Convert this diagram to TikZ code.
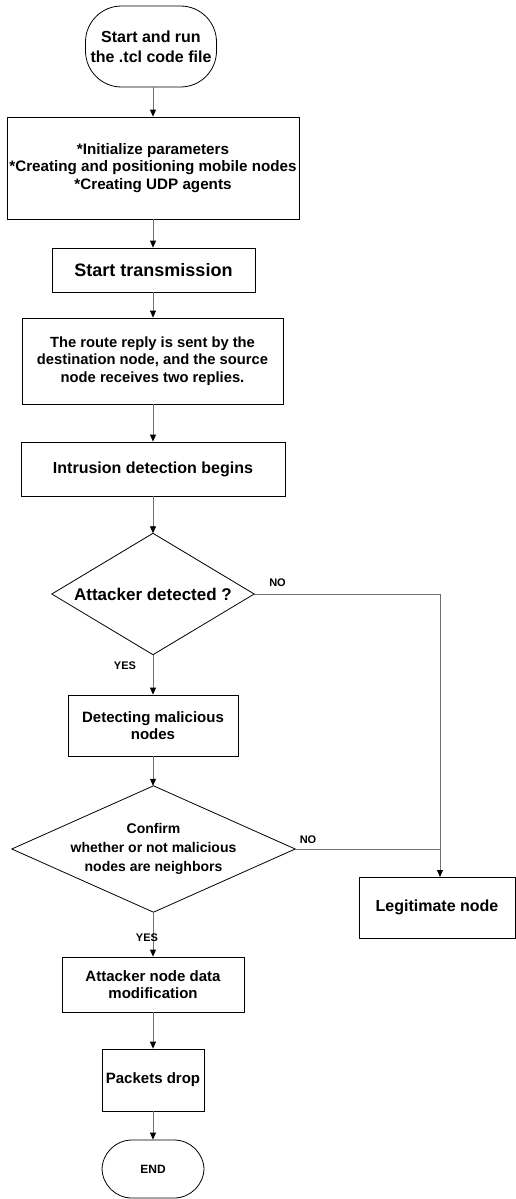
\documentclass[tikz,border=0pt]{standalone}
\usepackage{fontspec}
\setmainfont{Liberation Sans}
\usetikzlibrary{arrows.meta}
\definecolor{linegray}{HTML}{707070}
\begin{document}
\begin{tikzpicture}[x=1pt,y=-1pt,
  box/.style={draw=black,line width=0.8pt,inner sep=0pt,align=center,font=\bfseries},
  term/.style={box,rounded corners=36pt},
  decnode/.style={inner sep=0pt,align=center,font=\bfseries},
  conn/.style={draw=linegray,line width=0.8pt},
  arr/.style={conn,-{Triangle[length=7pt,width=6pt,color=black]}},
  lbl/.style={font=\bfseries\fontsize{11}{13}\selectfont,inner sep=0pt}]
\useasboundingbox[fill=white] (0,0) rectangle (516,1199);

\node[term,minimum width=131pt,minimum height=81pt,font=\bfseries\fontsize{16}{20}\selectfont] (start) at (151,46.5) {Start and run\\the .tcl code file};
\node[box,minimum width=292pt,minimum height=102pt,font=\bfseries\fontsize{15.2}{17.2}\selectfont] (init) at (153,168) {*Initialize parameters\\*Creating and positioning mobile nodes\\*Creating UDP agents};
\node[box,minimum width=203pt,minimum height=44pt,font=\bfseries\fontsize{18}{21}\selectfont] (trans) at (153.5,270) {Start transmission};
\node[box,minimum width=261pt,minimum height=86pt,font=\bfseries\fontsize{14.75}{17.3}\selectfont] (route) at (152.5,361) {The route reply is sent by the\\destination node, and the source\\node receives two replies.};
\node[box,minimum width=264pt,minimum height=54pt,font=\bfseries\fontsize{16}{19}\selectfont] (intr) at (153,469) {Intrusion detection begins};

\node[decnode,minimum width=202pt,minimum height=121pt,font=\bfseries\fontsize{17}{20}\selectfont] (d1) at (153,594) {Attacker detected ?};
\draw[line width=0.8pt] (d1.north) -- (d1.east) -- (d1.south) -- (d1.west) -- cycle;

\node[box,minimum width=170pt,minimum height=61pt,font=\bfseries\fontsize{15}{17.7}\selectfont] (det) at (153,725.5) {Detecting malicious\\nodes};

\node[decnode,minimum width=283pt,minimum height=126pt,font=\bfseries\fontsize{14}{19}\selectfont] (d2) at (153.5,849) {Confirm\\whether or not malicious\\nodes are neighbors};
\draw[line width=0.8pt] (d2.north) -- (d2.east) -- (d2.south) -- (d2.west) -- cycle;

\node[box,minimum width=156pt,minimum height=61pt,font=\bfseries\fontsize{16}{19}\selectfont] (legit) at (437,907.5) {Legitimate node};
\node[box,minimum width=182pt,minimum height=55pt,font=\bfseries\fontsize{15}{16.7}\selectfont] (atk) at (153,984.5) {Attacker node data\\modification};
\node[box,minimum width=102pt,minimum height=62pt,font=\bfseries\fontsize{15}{18}\selectfont] (pkt) at (153,1080) {Packets drop};
\node[term,rounded corners=30pt,minimum width=102pt,minimum height=58pt,font=\bfseries\fontsize{12}{14}\selectfont] (end) at (153,1169) {END};

\coordinate (lin) at (440,877);

\draw[arr] (start.south -| init.north) -- (init.north);
\draw[arr] (init.south) -- (init.south |- trans.north);
\draw[arr] (init.south |- trans.south) -- (init.south |- route.north);
\draw[arr] (init.south |- route.south) -- (init.south |- intr.north);
\draw[arr] (init.south |- intr.south) -- (d1.north);
\draw[arr] (d1.south) -- (det.north);
\draw[arr] (det.south) -- (d2.north -| det.south);
\draw[arr] (d2.south -| det.south) -- (atk.north);
\draw[arr] (atk.south) -- (pkt.north);
\draw[arr] (pkt.south) -- (end.north);
\draw[arr] (d1.east) -| (lin);
\draw[conn] (d2.east) -- (d2.east -| lin);

\node[lbl] (no1) at (277.5,583) {NO};
\node[lbl] (yes1) at (125,666) {YES};
\node[lbl] (no2) at (308,840) {NO};
\node[lbl] (yes2) at (147,938) {YES};
\end{tikzpicture}
\end{document}
